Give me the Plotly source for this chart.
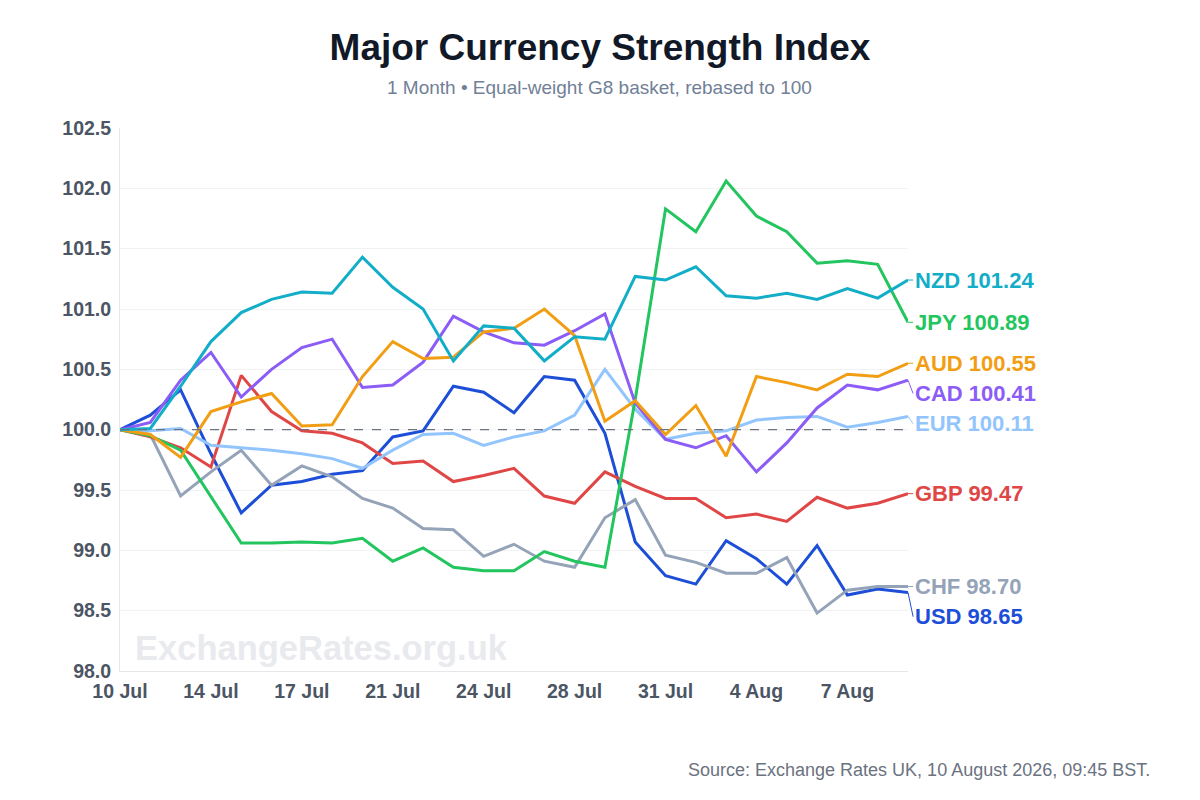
import plotly.graph_objects as go

dates = ["10 Jul", "11 Jul", "13 Jul", "14 Jul", "15 Jul", "16 Jul", "17 Jul", "18 Jul",
         "20 Jul", "21 Jul", "22 Jul", "23 Jul", "24 Jul", "25 Jul", "27 Jul", "28 Jul",
         "29 Jul", "30 Jul", "31 Jul", "1 Aug", "3 Aug", "4 Aug", "5 Aug", "6 Aug",
         "7 Aug", "8 Aug", "10 Aug"]
tick_labels = ["10 Jul", "14 Jul", "17 Jul", "21 Jul", "24 Jul", "28 Jul", "31 Jul", "4 Aug", "7 Aug"]

usd = [100.00, 100.12, 100.33, 99.80, 99.31, 99.54, 99.57, 99.63, 99.66, 99.94, 99.99, 100.36, 100.31,
       100.14, 100.44, 100.41, 99.97, 99.07, 98.79, 98.72, 99.08, 98.93, 98.72, 99.04, 98.63, 98.68, 98.65]
chf = [100.00, 99.96, 99.45, 99.65, 99.83, 99.54, 99.70, 99.61, 99.43, 99.35, 99.18, 99.17, 98.95,
       99.05, 98.91, 98.86, 99.27, 99.42, 98.96, 98.90, 98.81, 98.81, 98.94, 98.48, 98.67, 98.70, 98.70]
gbp = [100.00, 99.94, 99.85, 99.69, 100.45, 100.15, 99.99, 99.97, 99.89, 99.72, 99.74, 99.57, 99.62,
       99.68, 99.45, 99.39, 99.65, 99.53, 99.43, 99.43, 99.27, 99.30, 99.24, 99.44, 99.35, 99.39, 99.47]
eur = [100.00, 99.99, 100.01, 99.87, 99.85, 99.83, 99.80, 99.76, 99.68, 99.83, 99.96, 99.97, 99.87,
       99.94, 99.99, 100.12, 100.50, 100.17, 99.92, 99.97, 99.99, 100.08, 100.10, 100.11, 100.02, 100.06, 100.11]
jpy = [100.00, 99.95, 99.83, 99.45, 99.06, 99.06, 99.07, 99.06, 99.10, 98.91, 99.02, 98.86, 98.83,
       98.83, 98.99, 98.91, 98.86, 100.25, 101.83, 101.64, 102.06, 101.77, 101.64, 101.38, 101.40, 101.37, 100.89]
cad = [100.00, 100.06, 100.41, 100.64, 100.27, 100.50, 100.68, 100.75, 100.35, 100.37, 100.56, 100.94, 100.81,
       100.72, 100.70, 100.82, 100.96, 100.22, 99.92, 99.85, 99.95, 99.65, 99.89, 100.18, 100.37, 100.33, 100.41]
aud = [100.00, 99.96, 99.77, 100.15, 100.23, 100.30, 100.03, 100.04, 100.44, 100.73, 100.59, 100.60, 100.81,
       100.84, 101.00, 100.78, 100.07, 100.24, 99.96, 100.20, 99.78, 100.44, 100.39, 100.33, 100.46, 100.44, 100.55]
nzd = [100.00, 100.01, 100.36, 100.73, 100.97, 101.08, 101.14, 101.13, 101.43, 101.18, 101.00, 100.57, 100.86,
       100.84, 100.57, 100.77, 100.75, 101.27, 101.24, 101.35, 101.11, 101.09, 101.13, 101.08, 101.17, 101.09, 101.24]

series = {
    "USD": (usd, "#1d4ed8"),
    "CHF": (chf, "#94a3b8"),
    "GBP": (gbp, "#e04646"),
    "EUR": (eur, "#93c5fd"),
    "JPY": (jpy, "#22c55e"),
    "CAD": (cad, "#8b5cf6"),
    "AUD": (aud, "#f29e14"),
    "NZD": (nzd, "#12adc7"),
}

fig = go.Figure()
for name, (vals, col) in series.items():
    fig.add_trace(go.Scatter(x=dates, y=vals, mode="lines", name=name,
                             line=dict(color=col, width=3), hoverinfo="x+y+name"))

# end labels, pushed apart so they don't overlap
gap = 0.25
order = sorted(series.items(), key=lambda kv: kv[1][0][-1], reverse=True)
prev = None
for name, (vals, col) in order:
    end = vals[-1]
    ly = end if prev is None else min(end, prev - gap)
    prev = ly
    fig.add_shape(type="line", xref="paper", yref="y", x0=1.0, x1=1.0065, y0=end, y1=ly,
                  line=dict(color=col, width=1))
    fig.add_annotation(xref="paper", yref="y", x=1.006, y=ly, xanchor="left", yanchor="middle",
                       text=f"<b>{name} {end:.2f}</b>", showarrow=False,
                       font=dict(size=22, color=col))

fig.add_shape(type="line", xref="paper", yref="y", x0=0, x1=1, y0=100, y1=100,
              line=dict(color="#6b7280", width=1.3, dash="dash"))

fig.add_annotation(xref="paper", yref="paper", x=0.0165, y=0.043, xanchor="left", yanchor="middle",
                   text="<b>ExchangeRates.org.uk</b>", showarrow=False,
                   font=dict(size=34.5, color="#e8eaee"))

fig.add_annotation(xref="paper", yref="paper", x=0.609, y=1.074, xanchor="center", yanchor="middle",
                   text="1 Month • Equal-weight G8 basket, rebased to 100", showarrow=False,
                   font=dict(size=19, color="#718096"))

fig.add_annotation(xref="paper", yref="paper", x=1.3096, y=-0.182, xanchor="right", yanchor="middle",
                   text="Source: Exchange Rates UK, 10 August 2026, 09:45 BST.", showarrow=False,
                   font=dict(size=18, color="#6b7280"))

fig.update_layout(
    width=1200, height=800,
    paper_bgcolor="white", plot_bgcolor="white",
    margin=dict(l=112, r=300, t=120, b=137),
    showlegend=False,
    font=dict(family="Liberation Sans, Arial, sans-serif"),
    title=dict(text="<b>Major Currency Strength Index</b>", x=0.4933, xref="container",
               y=0.951, yref="container", xanchor="center", yanchor="middle",
               font=dict(size=37, color="#111827")),
)
fig.update_xaxes(type="category", range=[0, 26], tickvals=tick_labels, ticktext=[f"<b>{t}</b>" for t in tick_labels],
                 showgrid=False, showline=True, linecolor="#e5e7eb", linewidth=1,
                 tickfont=dict(size=19.5, color="#4b5563"), ticks="", ticklabelstandoff=3, zeroline=False)
fig.update_yaxes(range=[98.0, 102.5], dtick=0.5, tick0=98.0, tickformat=".1f",
                 showgrid=True, gridcolor="#f1f2f4", gridwidth=1,
                 showline=True, linecolor="#e5e7eb", linewidth=1, zeroline=False,
                 tickfont=dict(size=19.5, color="#4b5563"), ticks="", ticklabelstandoff=4,
                 tickprefix="<b>", ticksuffix="</b>")

fig.write_html("out.html")
